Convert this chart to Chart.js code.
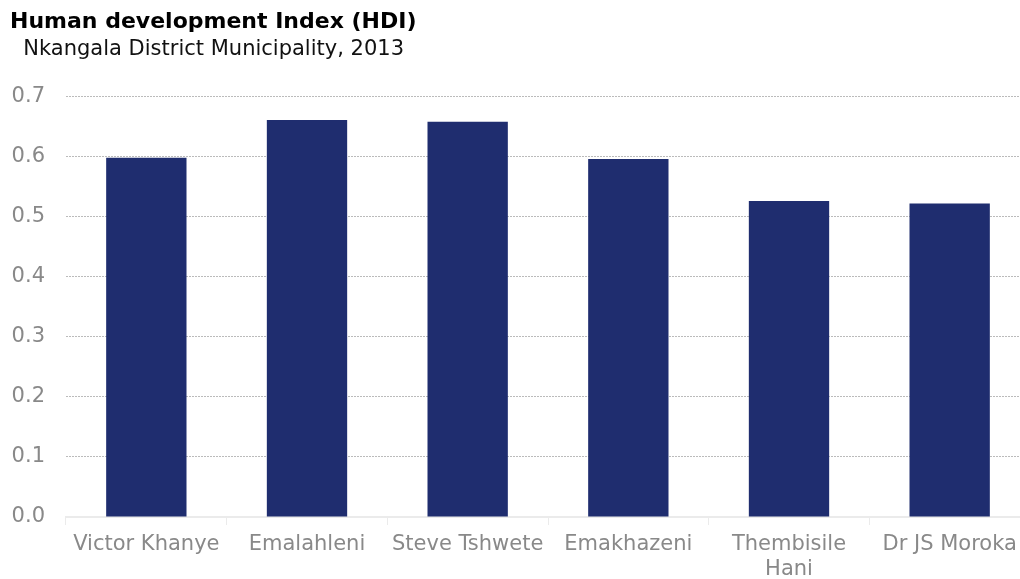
<!DOCTYPE html>
<html>
<head>
<meta charset="utf-8">
<script src="https://cdn.jsdelivr.net/npm/chart.js@4"></script>
<style>
  html, body { margin: 0; padding: 0; background: #fff; overflow: hidden; }
  #wrap { width: 1020px; height: 579px; overflow: hidden; }
</style>
</head>
<body>
<div id="wrap"><canvas id="hdiChart" width="1031" height="579"></canvas></div>
<script>
// HDI per local municipality, Nkangala 2013
const categories = ["Victor Khanye", "Emalahleni", "Steve Tshwete", "Emakhazeni", ["Thembisile", "Hani"], "Dr JS Moroka"];
const hdiValues = [0.598, 0.661, 0.658, 0.596, 0.526, 0.522];
const yTicks = [0, 0.1, 0.2, 0.3, 0.4, 0.5, 0.6, 0.7];

const fontName = "'DejaVu Sans', Verdana, sans-serif";
const greyText = "#898989";

document.addEventListener("DOMContentLoaded", function () {
  const canvas = document.getElementById("hdiChart");
  if (!canvas) return;

  new Chart(canvas.getContext("2d"), {
    type: "bar",
    data: {
      labels: categories,
      datasets: [
        {
          label: "HDI",
          data: hdiValues,
          backgroundColor: "#1F2D6F",
          borderWidth: 0,
          barPercentage: 0.5,
          categoryPercentage: 1.0,
        },
      ],
    },
    options: {
      responsive: false,
      animation: false,
      layout: { padding: { left: 10, right: 1, top: 0, bottom: 0 } },
      scales: {
        y: {
          min: 0,
          max: 0.7,
          afterBuildTicks: function (axis) {
            axis.ticks = yTicks.map(function (v) { return { value: v }; });
          },
          afterFit: function (axis) {
            axis.width = 56; // plot area starts at x=66
          },
          border: { display: false, dash: [2, 1] },
          grid: {
            drawTicks: false,
            color: function (ctx) {
              return ctx.tick && ctx.tick.value === 0 ? "rgba(0,0,0,0)" : "#bbbbbb";
            },
            lineWidth: 1,
          },
          ticks: {
            padding: 21,
            color: greyText,
            font: { family: fontName, size: 21 },
            callback: function (v) { return Number(v).toFixed(1); },
          },
        },
        x: {
          afterFit: function (axis) {
            axis.height = 62; // labels may run to the bottom edge
          },
          border: { display: true, color: "#ebebeb", width: 2 },
          grid: {
            drawOnChartArea: false,
            drawTicks: true,
            tickLength: 8,
            color: "#ebebeb",
          },
          ticks: {
            padding: 7,
            color: greyText,
            maxRotation: 0,
            autoSkip: false,
            font: { family: fontName, size: 21 },
          },
        },
      },
      plugins: {
        legend: { display: false },
        tooltip: { enabled: false },
        title: {
          display: true,
          text: "Human development Index (HDI)",
          align: "start",
          color: "#000",
          font: { family: fontName, size: 22, weight: "bold" },
          padding: { top: 9, bottom: 2 },
        },
        subtitle: {
          display: true,
          text: "  Nkangala District Municipality, 2013",
          align: "start",
          color: "#111",
          font: { family: fontName, size: 21 },
          padding: { top: 0, bottom: 34 },
        },
      },
    },
  });
});
</script>
</body>
</html>
